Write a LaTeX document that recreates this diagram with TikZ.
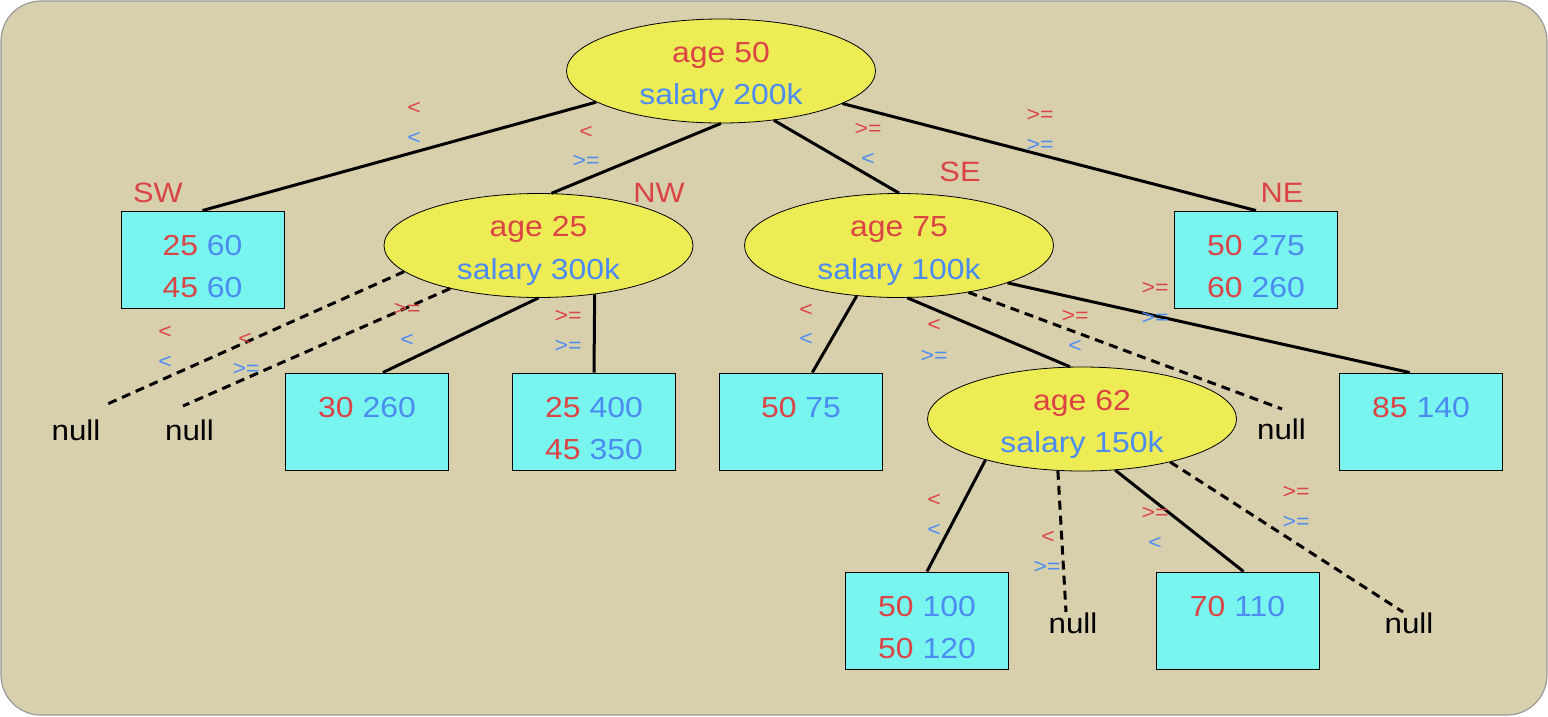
\documentclass[tikz,border=0pt]{standalone}
\usepackage{fontspec}
\setmainfont{Liberation Sans}[FakeStretch=1.1]
\usetikzlibrary{shapes.geometric}
\definecolor{bgc}{HTML}{D8D0AD}
\definecolor{framec}{HTML}{9A9A9A}
\definecolor{txtred}{HTML}{DB4444}
\definecolor{txtblue}{HTML}{4C8BF0}
\definecolor{ylw}{HTML}{EDEC55}
\definecolor{cyn}{HTML}{77F5EE}
\newcommand\tr[1]{\textcolor{txtred}{#1}}
\newcommand\tb[1]{\textcolor{txtblue}{#1}}
\begin{document}
\begin{tikzpicture}[x=1pt,y=-1pt,
  oval/.style={ellipse, draw=black, line width=0.8pt, fill=ylw, minimum width=309pt, minimum height=104pt, inner sep=0pt, align=center, font=\fontsize{29}{42.5}\selectfont},
  leaf/.style={rectangle, draw=black, line width=1pt, fill=cyn, minimum width=163pt, minimum height=97pt, inner sep=0pt, align=center, font=\fontsize{29}{42.5}\selectfont},
  quad/.style={font=\fontsize{28}{28}\selectfont, text=txtred, inner sep=0pt},
  nulltxt/.style={font=\fontsize{28.5}{28.5}\selectfont, text=black, inner sep=0pt},
  lbl/.style={font=\fontsize{21}{21}\selectfont, inner sep=0pt},
  lr/.style={lbl, text=txtred},
  lb/.style={lbl, text=txtblue},
  edgeline/.style={line width=3pt, black},
  nulledge/.style={line width=3pt, black, dash pattern=on 9pt off 6pt}]
\useasboundingbox (0,0) rectangle (1548,716);
\draw[fill=bgc, draw=framec, line width=1.2pt, rounded corners=40pt] (1,1) rectangle (1547,715);

% inner nodes
\node[oval] (root) at (721,71) {\rule{0pt}{24.5pt}\tr{age 50}\\\smash{\tb{salary 200k}}};
\node[oval] (nw) at (538.5,245.5) {\rule{0pt}{24.5pt}\tr{age 25}\\\smash{\tb{salary 300k}}};
\node[oval] (se) at (899,245.5) {\rule{0pt}{24.5pt}\tr{age 75}\\\smash{\tb{salary 100k}}};
\node[oval] (a62) at (1082,419) {\rule{0pt}{24.5pt}\tr{age 62}\\\smash{\tb{salary 150k}}};

% leaves
\node[leaf] (sw) at (202.5,259.5) {\rule{0pt}{34.3pt}\tr{25} \tb{60}\\\tr{45} \tb{60}};
\node[leaf] (ne) at (1256,259.5) {\rule{0pt}{34.3pt}\tr{50} \tb{275}\\\tr{60} \tb{260}};
\node[leaf] (b30) at (367,421.5) {\rule{0pt}{34.3pt}\tr{30} \tb{260}\\\rule{0pt}{1pt}};
\node[leaf] (b25) at (594,421.5) {\rule{0pt}{34.3pt}\tr{25} \tb{400}\\\tr{45} \tb{350}};
\node[leaf] (b50) at (801,421.5) {\rule{0pt}{34.3pt}\tr{50} \tb{75}\\\rule{0pt}{1pt}};
\node[leaf] (b85) at (1421,421.5) {\rule{0pt}{34.3pt}\tr{85} \tb{140}\\\rule{0pt}{1pt}};
\node[leaf] (b5010) at (927,620.5) {\rule{0pt}{34.3pt}\tr{50} \tb{100}\\\tr{50} \tb{120}};
\node[leaf] (b70) at (1237.5,620.5) {\rule{0pt}{34.3pt}\tr{70} \tb{110}\\\rule{0pt}{1pt}};

% quadrant labels
\node[quad] (qsw) at (158,193) {SW};
\node[quad] (qnw) at (659,193) {NW};
\node[quad] (qse) at (960,172) {SE};
\node[quad] (qne) at (1282,193) {NE};

% null nodes and dashed ends
\node[nulltxt] (n1) at (76,430) {null};
\node[nulltxt] (n2) at (189.5,430) {null};
\node[nulltxt] (n3) at (1281.5,429) {null};
\node[nulltxt] (n4) at (1073,623) {null};
\node[nulltxt] (n5) at (1409,623) {null};
\coordinate (e1) at (103,406);
\coordinate (e2) at (183,406);
\coordinate (e3) at (1282,409);
\coordinate (e4) at (1066,612);
\coordinate (e5) at (1403,612);

% solid edges
\draw[edgeline] (root.194) -- (sw.north);
\draw[edgeline] (root.south) -- (nw.76);
\draw[edgeline] (root.-43) -- (se.north);
\draw[edgeline] (root.-15) -- (ne.north);
\draw[edgeline] (nw.south) -- (b30.72);
\draw[edgeline] (nw.-41) -- (b25.north);
\draw[edgeline] (se.230) -- (b50.77);
\draw[edgeline] (se.-81) -- (a62.103);
\draw[edgeline] (se.-19) -- (b85.103);
\draw[edgeline] (a62.203) -- (b5010.north);
\draw[edgeline] (a62.-57) -- (b70.83);

% dashed edges to null
\draw[nulledge] (nw.191) -- (e1);
\draw[nulledge] (nw.206) -- (e2);
\draw[nulledge] (se.-34) -- (e3);
\draw[nulledge] (a62.245) -- (e4);
\draw[nulledge] (a62.-26) -- (e5);

% edge labels
\node[lr] (l1a) at (414,108) {<};  \node[lb] (l1b) at (414,138) {<};
\node[lr] (l2a) at (586,132) {<};  \node[lb] (l2b) at (586,161) {>=};
\node[lr] (l3a) at (868,129) {>=}; \node[lb] (l3b) at (868,159) {<};
\node[lr] (l4a) at (1040,115) {>=};\node[lb] (l4b) at (1040,145) {>=};
\node[lr] (l5a) at (165,332) {<};  \node[lb] (l5b) at (165,362) {<};
\node[lr] (l6a) at (245,339) {<};  \node[lb] (l6b) at (246,369) {>=};
\node[lr] (l7a) at (407,309) {>=}; \node[lb] (l7b) at (407,340) {<};
\node[lr] (l8a) at (568,316) {>=}; \node[lb] (l8b) at (568,346) {>=};
\node[lr] (l9a) at (806,310) {<};  \node[lb] (l9b) at (806,339) {<};
\node[lr] (l10a) at (934,325) {<}; \node[lb] (l10b) at (934,356) {>=};
\node[lr] (l11a) at (1075,316) {>=};\node[lb] (l11b) at (1075,346) {<};
\node[lr] (l12a) at (1155,288) {>=};\node[lb] (l12b) at (1155,318) {>=};
\node[lr] (l13a) at (934,500) {<}; \node[lb] (l13b) at (934,530) {<};
\node[lr] (l14a) at (1048,537) {<};\node[lb] (l14b) at (1047,567) {>=};
\node[lr] (l15a) at (1155,513) {>=};\node[lb] (l15b) at (1155,543) {<};
\node[lr] (l16a) at (1296,492) {>=};\node[lb] (l16b) at (1296,522) {>=};
\end{tikzpicture}
\end{document}
